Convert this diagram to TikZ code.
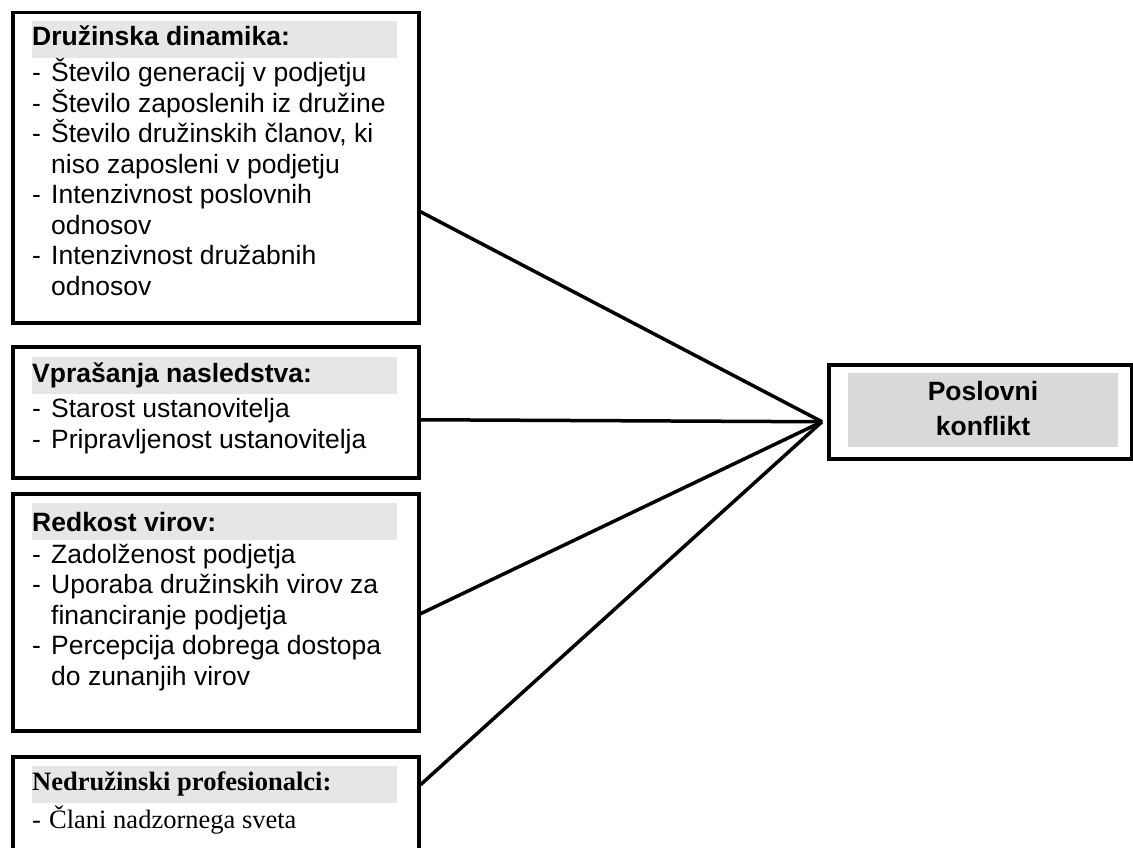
\documentclass[tikz,border=0pt]{standalone}
\usepackage{fontspec}
\setmainfont{Liberation Sans}
\newfontfamily\timesfont{Liberation Serif}
\usepackage{tikz}
\usetikzlibrary{calc}
\definecolor{headgray}{HTML}{E6E6E6}
\definecolor{confgray}{HTML}{D9D9D9}
\newcommand{\basefont}{\fontsize{26.5pt}{30.5pt}\selectfont}
\newcommand{\itm}{\makebox[19pt][l]{-}}
\newcommand{\cont}{\hspace*{19pt}}
\tikzstyle{factorbox} = [rectangle, draw=black, line width=3.5pt, anchor=north west, minimum width=406pt, inner sep=0pt]
\tikzstyle{headbar} = [rectangle, fill=headgray, anchor=north west, minimum width=365pt, minimum height=37pt, inner sep=0pt]
\tikzstyle{headtext} = [anchor=base west, inner sep=0pt, font=\basefont\bfseries]
\tikzstyle{itemlist} = [anchor=base west, inner sep=0pt, align=left, font=\basefont]
\tikzstyle{link} = [line width=3.5pt]

\begin{document}
\begin{tikzpicture}[x=1pt, y=-1pt]
      \useasboundingbox (0,0) rectangle (1133,848);

      % factor boxes on the left (lists sit on their last baseline)
      \node (dynamics) [factorbox, minimum height=310pt] at (11,11) {};
      \node (dynbar) [headbar] at (32,21) {};
      \node (dynhead) [headtext] at (32,45.7) {Družinska dinamika:};
      \node (dynlist) [itemlist] at (32,295) {\itm Število generacij v podjetju\\
        \itm Število zaposlenih iz družine\\
        \itm Število družinskih članov, ki\\
        \cont niso zaposleni v podjetju\\
        \itm Intenzivnost poslovnih\\
        \cont odnosov\\
        \itm Intenzivnost družabnih\\
        \cont odnosov};

      \node (succession) [factorbox, minimum height=131pt] at (11,345) {};
      \node (sucbar) [headbar] at (32,357) {};
      \node (suchead) [headtext] at (32,382) {Vprašanja nasledstva:};
      \node (suclist) [itemlist] at (32,448) {\itm Starost ustanovitelja\\
        \itm Pripravljenost ustanovitelja};

      \node (resources) [factorbox, minimum height=237pt] at (11,492) {};
      \node (resbar) [headbar] at (32,503) {};
      \node (reshead) [headtext] at (32,531) {Redkost virov:};
      \node (reslist) [itemlist] at (32,685) {\itm Zadolženost podjetja\\
        \itm Uporaba družinskih virov za\\
        \cont financiranje podjetja\\
        \itm Percepcija dobrega dostopa\\
        \cont do zunanjih virov};

      \node (professionals) [factorbox, minimum height=125pt] at (11,755) {};
      \node (probar) [headbar] at (32,766) {};
      \node (prohead) [headtext, font=\basefont\timesfont\bfseries] at (32,790) {Nedružinski profesionalci:};
      \node (prolist) [itemlist, font=\basefont\timesfont] at (32,828) {\makebox[17pt][l]{-}Člani nadzornega sveta};

      % outcome box
      \node (conflict) [factorbox, minimum width=303pt, minimum height=94pt] at (827,363) {};
      \node (confbar) [headbar, fill=confgray, minimum width=270pt, minimum height=74pt] at (848,373) {};
      \node (conftext) [itemlist, anchor=base, align=center, font=\fontsize{26.5pt}{35pt}\selectfont\bfseries] at (983,435) {Poslovni\\ konflikt};

      \coordinate (hub) at ([xshift=-5pt, yshift=-10pt]conflict.west);
      \draw [link] ([yshift=-44pt]dynamics.east) -- (hub);
      \draw [link] ([yshift=-7.5pt]succession.east) -- (hub);
      \draw [link] ([yshift=-1.5pt]resources.east) -- (hub);
      \draw [link] ([yshift=34.5pt]professionals.east) -- (hub);
\end{tikzpicture}
\end{document}
